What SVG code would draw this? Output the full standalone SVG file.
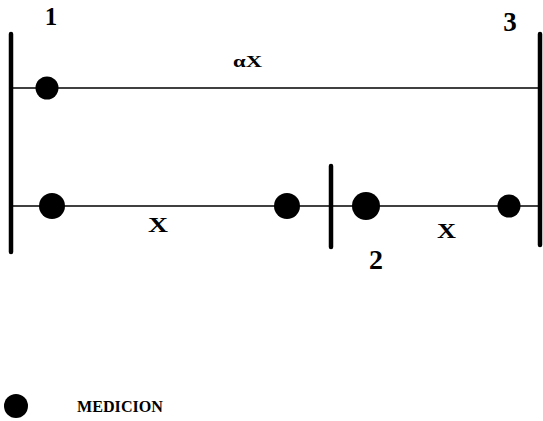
<svg xmlns="http://www.w3.org/2000/svg" width="543" height="421" viewBox="0 0 543 421">
<style>
.line{stroke:#000;stroke-width:1.5;fill:none}
.bar{stroke:#000;stroke-width:4.5;stroke-linecap:round}
.dot{fill:#000}
.lbl{font-family:"Liberation Serif",serif;font-weight:bold;fill:#000;text-anchor:middle}
</style>
<rect width="543" height="421" fill="#fff"/>
<g id="connectors">
<line class="line" x1="11" y1="88" x2="540" y2="88"/>
<line class="line" x1="11" y1="206" x2="540" y2="206"/>
</g>
<g id="bar1"><line class="bar" x1="11" y1="34" x2="11" y2="252"/><text class="lbl" x="51" y="25" font-size="25">1</text></g>
<g id="bar2"><line class="bar" x1="331" y1="166" x2="331" y2="247"/><text class="lbl" x="376" y="269" font-size="28">2</text></g>
<g id="bar3"><line class="bar" x1="540" y1="34" x2="540" y2="245"/><text class="lbl" x="510" y="31" font-size="27">3</text></g>
<g id="dot-top"><circle class="dot" cx="47" cy="88" r="11.5"/></g>
<g id="dot-b1"><circle class="dot" cx="52" cy="206" r="13"/></g>
<g id="dot-b2"><circle class="dot" cx="287" cy="206" r="13"/></g>
<g id="dot-b3"><circle class="dot" cx="366" cy="206" r="14"/></g>
<g id="dot-b4"><circle class="dot" cx="509" cy="206" r="11.5"/></g>
<g id="labels">
<text class="lbl" x="233" y="67" font-size="17" textLength="29" lengthAdjust="spacingAndGlyphs" style="text-anchor:start">αX</text>
<text class="lbl" x="148" y="232" font-size="21" textLength="20" lengthAdjust="spacingAndGlyphs" style="text-anchor:start">X</text>
<text class="lbl" x="437" y="238" font-size="21" textLength="19" lengthAdjust="spacingAndGlyphs" style="text-anchor:start">X</text>
</g>
<g id="legend">
<circle class="dot" cx="16" cy="406" r="12"/>
<text class="lbl" x="77" y="412" font-size="16" textLength="86" lengthAdjust="spacingAndGlyphs" style="text-anchor:start">MEDICION</text>
</g>
</svg>
